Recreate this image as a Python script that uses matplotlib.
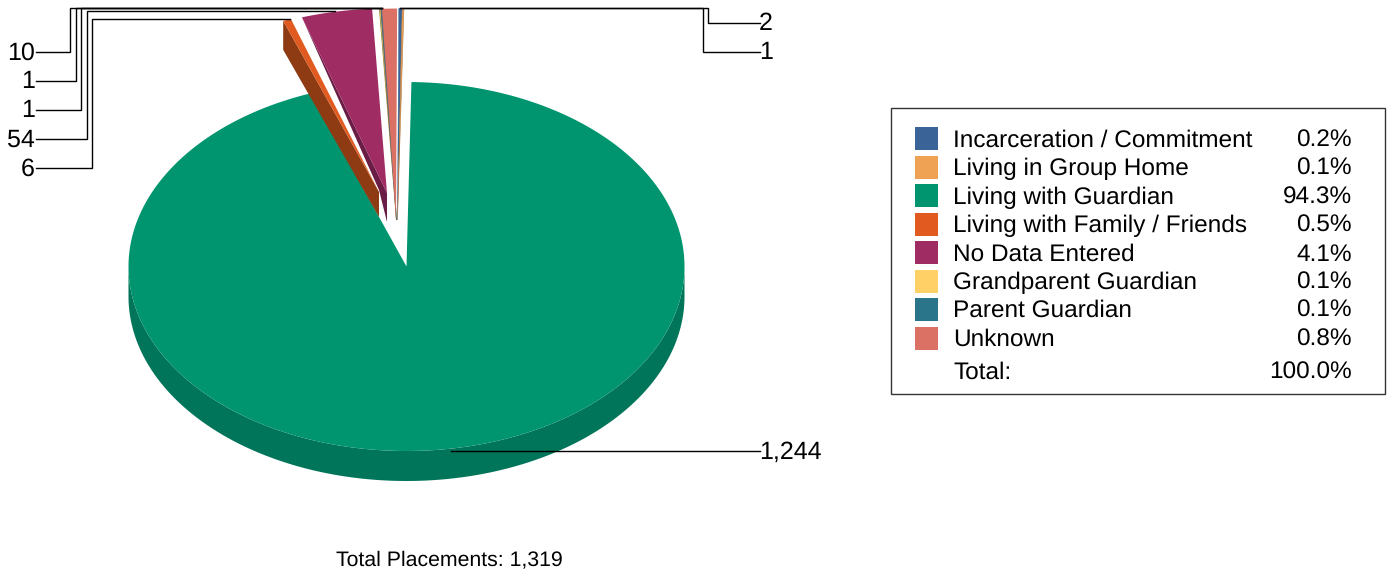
import numpy as np
import matplotlib
matplotlib.use("Agg")
import matplotlib.pyplot as plt
from matplotlib.patches import Rectangle

plt.rcParams['font.family'] = ['Liberation Sans', 'DejaVu Sans']
plt.rcParams['text.hinting'] = 'no_hinting'

categories = ["Incarceration / Commitment", "Living in Group Home", "Living with Guardian",
              "Living with Family / Friends", "No Data Entered", "Grandparent Guardian",
              "Parent Guardian", "Unknown"]
values = [2, 1, 1244, 6, 54, 1, 1, 10]
colors = ["#3A6498", "#F0A254", "#00956E", "#E15A20", "#A02C64", "#FFD066", "#2A7589", "#DB7064"]
side_colors = ["#3A6498", "#B07A40", "#00755A", "#8E3B14", "#6A1D45", "#A08A40", "#4A6A78", "#DB7064"]

# pie geometry in pixels
cx, cy = 406.5, 266.5
rx, ry = 278, 184.5
depth = 30
start = 0.2

# per slice: apex position, radius scales, side drop at outer edge and apex, edge width
apex_x = [397.5, 397.5, cx, 379, 387, 396.5, 396.5, 396]
apex_y = [220, 220, cy, 192, 193, 220, 220, 220]
scale_x = [1.3, 1.3, 1.0, 1.035, 1.0, 1.146, 1.146, 1.146]
scale_y = [1.146, 1.146, 1.0, 0.984, 1.0, 1.146, 1.146, 1.146]
side_drop = [0, 0, 30, 29, 0, 0, 0, 0]
apex_drop = [0, 0, 0, 25, 29, 0, 0, 0]
edge_w = [0.3, 0.4, 0, 0, 0, 0.6, 0.6, 0]
end_trim = [0, 0, -0.75, 0, 0, 0, 0, 0]
# the no data cut face bends where it passes behind the family slice
knee_x, knee_y = 379, 190


def arc(ax_, ay_, a0, a1, sx=1.0, sy=1.0):
    t = np.radians(np.linspace(a0, a1, max(int(abs(a1 - a0) * 2), 2)))
    return ax_ + rx * sx * np.sin(t), ay_ - ry * sy * np.cos(t)


fig = plt.figure(figsize=(13.93, 5.72), dpi=100)
ax = fig.add_axes([0, 0, 1, 1])
ax.set_xlim(0, 1393)
ax.set_ylim(572, 0)
ax.axis("off")

total = sum(values)
edges = start + np.concatenate([[0], np.cumsum(values)]) * 360.0 / total

# big slice first, then no data under the family slice, then the rest
order = [2, 4, 3, 5, 6, 7, 0, 1]
z = 1
for i in order:
    a0, a1 = edges[i], edges[i + 1] + end_trim[i]
    x, y = arc(apex_x[i], apex_y[i], a0, a1, scale_x[i], scale_y[i])
    if i == 2:
        # rim of the big slice along the front half
        xs, ys = arc(cx, cy, 90, 270)
        ax.fill(np.r_[xs, xs[::-1]], np.r_[ys, ys[::-1] + depth], color=side_colors[i], lw=0, zorder=z)
    elif i == 4:
        ax.fill([x[0], knee_x, apex_x[i], apex_x[i]],
                [y[0], knee_y, apex_y[i] + apex_drop[i], apex_y[i]],
                color=side_colors[i], lw=0, zorder=z)
    elif apex_drop[i] > 0:
        # left cut face of the slice
        ax.fill([x[0], x[0], apex_x[i], apex_x[i]],
                [y[0], y[0] + side_drop[i], apex_y[i] + apex_drop[i], apex_y[i]],
                color=side_colors[i], lw=0, zorder=z)
    ax.fill(np.r_[apex_x[i], x], np.r_[apex_y[i], y], facecolor=colors[i],
            edgecolor=side_colors[i], lw=edge_w[i], zorder=z + 1)
    z += 2

# value labels with elbow leaders
left_idx = [7, 6, 5, 4, 3]
left_y = [52, 81, 110, 139, 168]
left_elbow = [70, 75.5, 81, 86.5, 92]
left_top = [8, 8, 8, 11, 19]
left_end = [382, 382, 382, 335, 290]
for i, ly, ex, ty, en in zip(left_idx, left_y, left_elbow, left_top, left_end):
    ax.plot([36, ex, ex, en], [ly, ly, ty, ty], color="black", lw=1, zorder=30, solid_joinstyle="miter")
    ax.text(35, ly + 1, f"{values[i]:,}", ha="right", va="center", fontsize=18, color="black")

right_idx = [0, 1]
right_y = [23, 52]
right_elbow = [708, 703]
for i, ly, ex in zip(right_idx, right_y, right_elbow):
    ax.plot([760, ex, ex, 400], [ly, ly, 8, 8], color="black", lw=1, zorder=30, solid_joinstyle="miter")
    ax.text(759, ly + 1, f"{values[i]:,}", ha="left", va="center", fontsize=18, color="black")

ax.plot([760, 451], [451, 451], color="black", lw=1, zorder=30)
ax.text(759, 452, f"{values[2]:,}", ha="left", va="center", fontsize=18, color="black")

ax.text(449.5, 559.5, f"Total Placements: {total:,}", ha="center", va="center", fontsize=15.3, color="black")

# legend table
ax.add_patch(Rectangle((891, 108), 494, 286, fc="white", ec="#333333", lw=1))
row_y = [138.5, 167, 195.5, 224, 252.5, 281, 309, 338]
for name, v, c, ry_ in zip(categories, values, colors, row_y):
    ax.add_patch(Rectangle((915, ry_ - 11.5), 23, 23, fc=c, ec="none"))
    ax.text(953, ry_ + 2, name, ha="left", va="center", fontsize=17.55, color="black")
    ax.text(1352, ry_ + 2, f"{100 * v / total:.1f}%", ha="right", va="center", fontsize=17.55, color="black")
ax.text(953, 373, "Total:", ha="left", va="center", fontsize=17.55, color="black")
ax.text(1352, 373, f"{100 * sum(values) / total:.1f}%", ha="right", va="center", fontsize=17.55, color="black")

fig.savefig("out.png", dpi=100)
